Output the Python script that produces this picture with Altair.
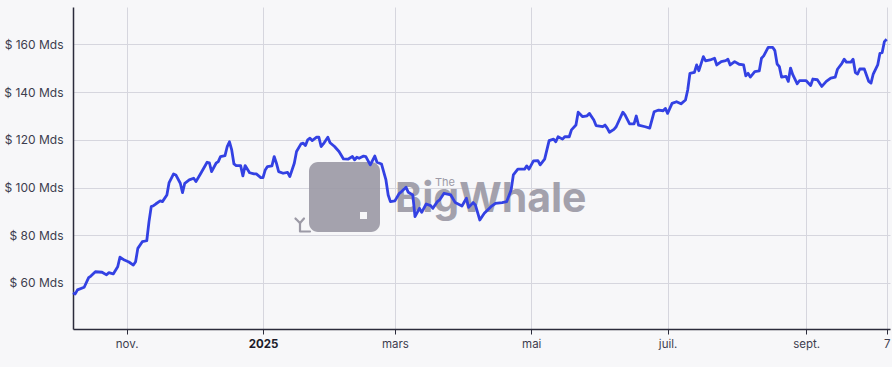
import altair as alt
import pandas as pd

# Days elapsed since 8 Oct 2024 and the value (billions of dollars)
days_since_start = [
    0, 1, 2, 5, 7, 8, 10, 13, 15, 16, 18, 20, 21, 23, 25, 27, 28, 29, 31, 33,
    34, 35, 36, 37, 39, 40, 42, 43, 45, 46, 48, 49, 50, 52, 54, 55, 57, 60, 61, 62,
    64, 65, 66, 68, 69, 70, 71, 72, 73, 75, 76, 77, 79, 81, 82, 84, 85, 86, 87, 89,
    90, 91, 92, 94, 96, 97, 99, 100, 102, 103, 104, 105, 106, 107, 109, 110, 111, 112, 114, 115,
    117, 119, 121, 123, 125, 126, 127, 128, 130, 131, 133, 135, 136, 138, 140, 141, 142, 144, 146, 147,
    149, 150, 152, 153, 155, 156, 158, 160, 161, 163, 164, 166, 169, 171, 174, 176, 177, 179, 180, 182,
    184, 187, 189, 192, 194, 196, 197, 199, 202, 203, 204, 206, 208, 209, 211, 213, 215, 216, 217, 219,
    220, 222, 223, 225, 226, 228, 230, 231, 233, 234, 237, 238, 239, 240, 242, 243, 246, 247, 249, 251,
    252, 253, 256, 258, 260, 262, 264, 265, 266, 268, 270, 272, 274, 275, 276, 278, 279, 280, 282, 283,
    285, 287, 288, 290, 292, 293, 294, 296, 298, 300, 301, 302, 303, 305, 307, 308, 309, 311, 313, 314,
    315, 316, 317, 319, 320, 321, 322, 324, 325, 328, 330, 331, 333, 335, 337, 339, 341, 342, 344, 345,
    346, 348, 349, 350, 351, 352, 354, 356, 357, 358, 360, 361, 362, 363, 364,
]
value_mds = [
    55.9, 55.4, 57.1, 58.2, 62.2, 62.9, 64.7, 64.5, 63.4, 64.3, 63.8, 66.8, 70.8, 69.6, 68.8, 67.5, 68.9, 74.5, 77.3, 77.7,
    85.7, 92.0, 92.4, 93.1, 94.4, 94.1, 96.9, 102.1, 105.7, 105.3, 101.8, 97.9, 101.8, 103.2, 103.9, 102.5, 105.7, 110.6, 110.4, 106.7,
    110.2, 110.9, 113.0, 113.4, 117.2, 119.2, 115.8, 109.9, 109.2, 109.2, 104.9, 109.2, 106.2, 105.7, 105.7, 104.2, 104.2, 107.4, 108.8, 109.1,
    113.0, 110.2, 106.7, 106.0, 106.4, 104.6, 110.2, 115.1, 118.3, 118.6, 117.6, 120.0, 120.7, 119.7, 121.1, 121.1, 117.2, 118.3, 121.1, 118.8,
    117.2, 115.1, 112.0, 111.9, 113.0, 111.6, 112.7, 112.3, 113.2, 113.0, 109.5, 113.2, 110.6, 109.9, 103.2, 96.9, 94.1, 94.4, 97.6, 98.3,
    100.1, 98.0, 96.9, 87.8, 91.3, 89.6, 93.1, 92.4, 91.3, 94.1, 94.8, 97.6, 96.9, 93.7, 92.3, 95.5, 91.7, 93.7, 92.7, 86.4,
    89.2, 92.0, 93.4, 93.7, 94.1, 99.0, 105.3, 107.7, 107.7, 109.1, 107.7, 111.2, 111.3, 109.5, 111.9, 119.7, 120.3, 119.2, 121.3, 120.3,
    121.3, 121.3, 124.2, 126.2, 131.6, 129.7, 130.1, 131.1, 128.3, 126.0, 125.5, 126.2, 124.9, 123.2, 124.4, 125.5, 131.6, 130.4, 126.7, 126.7,
    130.0, 126.2, 125.5, 124.9, 131.8, 132.5, 132.2, 133.2, 131.1, 135.3, 136.0, 135.1, 136.7, 140.9, 147.9, 148.3, 151.4, 149.0, 154.9, 153.1,
    153.5, 154.2, 151.4, 152.8, 153.2, 153.8, 151.4, 152.8, 151.7, 151.4, 146.8, 147.9, 146.3, 148.6, 148.9, 154.2, 155.2, 158.8, 158.8, 157.4,
    151.8, 150.7, 146.3, 146.6, 144.5, 150.1, 147.3, 143.5, 144.8, 144.8, 142.8, 145.5, 145.2, 142.4, 144.5, 145.9, 146.3, 149.6, 152.1, 153.8,
    152.6, 152.6, 153.8, 148.2, 147.6, 149.7, 149.7, 144.5, 143.8, 147.6, 151.4, 156.3, 156.6, 161.2, 162.2,
]

start_date = "2024-10-08"
x_domain = [alt.DateTime(year=2024, month=10, date=8), alt.DateTime(year=2025, month=10, date=8, hours=12)]
y_domain = [40.7, 175.7]

tick_years = [2024, 2025, 2025, 2025, 2025, 2025, 2025]
tick_months = [11, 1, 3, 5, 7, 9, 10]
tick_days = [1, 1, 1, 1, 1, 1, 7]
tick_labels = ["nov.", "2025", "mars", "mai", "juil.", "sept.", "7"]
y_ticks = [60, 80, 100, 120, 140, 160]

df = pd.DataFrame({
    "date": pd.Timestamp(start_date) + pd.to_timedelta(days_since_start, unit="D"),
    "value": value_mds,
})

label_expr = ""
for mo, dd, lab in zip(tick_months, tick_days, tick_labels):
    label_expr += f"(month(datum.value)=={mo - 1} && date(datum.value)=={dd}) ? '{lab}' : "
label_expr += "''"

FONT = "Inter"
TEXT = "#3d3d4e"
GREY = "#9c9aa6"

x_axis = alt.Axis(
    values=[alt.DateTime(year=y, month=m, date=d) for y, m, d in zip(tick_years, tick_months, tick_days)],
    labelExpr=label_expr,
    title=None,
    grid=True,
    gridColor="#d6d6de",
    gridWidth=1,
    domainColor="#2b2b3b",
    domainWidth=1.5,
    tickColor="#2b2b3b",
    tickSize=5,
    tickWidth=1,
    labelPadding=4,
    labelFont=FONT,
    labelFontSize=11.5,
    labelColor={"condition": {"test": "month(datum.value)==0", "value": "#1c1c2a"}, "value": TEXT},
    labelFontWeight={"condition": {"test": "month(datum.value)==0", "value": "bold"}, "value": "normal"},
    labelOverlap=False,
    labelFlush=False,
)
y_axis = alt.Axis(
    values=y_ticks,
    labelExpr="'$ ' + datum.value + ' Mds'",
    title=None,
    grid=True,
    gridColor="#d6d6de",
    gridWidth=1,
    domainColor="#2b2b3b",
    domainWidth=1.5,
    ticks=False,
    labelPadding=10,
    labelFont=FONT,
    labelFontSize=12,
    labelColor=TEXT,
)

one = pd.DataFrame({"k": [0]})

# watermark (decoration)
logo_box = alt.Chart(one).mark_rect(cornerRadius=9, color=GREY, opacity=0.92).encode(
    x=alt.value(236), x2=alt.value(307), y=alt.value(155), y2=alt.value(225)
)
logo_eye = alt.Chart(one).mark_rect(color="#f7f7f9").encode(
    x=alt.value(287), x2=alt.value(294), y=alt.value(205), y2=alt.value(212)
)
sprout_parts = []
for (a, b, c, d) in [(227, 227, 216, 224), (227, 222.5, 216, 211.5), (227, 231, 216, 211.5), (227, 237, 224.5, 224.5)]:
    sprout_parts.append(
        alt.Chart(one).mark_rule(color=GREY, strokeWidth=2.2, strokeCap="round").encode(
            x=alt.value(a), x2=alt.value(b), y=alt.value(c), y2=alt.value(d)
        )
    )
logo_text = alt.Chart(one).mark_text(
    text="BigWhale", font=FONT, fontSize=41, fontWeight="bold", color=GREY,
    align="left", baseline="alphabetic", opacity=0.92,
).encode(x=alt.value(322), y=alt.value(205))
logo_the = alt.Chart(one).mark_text(
    text="The", font=FONT, fontSize=11, color=GREY, align="left", baseline="alphabetic",
).encode(x=alt.value(362), y=alt.value(179))

line = alt.Chart(df).mark_line(color="#3341e3", strokeWidth=2.8, strokeJoin="round").encode(
    x=alt.X("date:T", scale=alt.Scale(domain=x_domain, nice=False), axis=x_axis),
    y=alt.Y("value:Q", scale=alt.Scale(domain=y_domain, nice=False, zero=False), axis=y_axis),
)

chart = alt.layer(
    logo_box, logo_eye, *sprout_parts, logo_text, logo_the, line
).properties(
    width=817,
    height=322,
    autosize=alt.AutoSizeParams(type="none"),
    padding={"left": 73, "top": 7, "right": 2, "bottom": 38},
    background="#f7f7f9",
).configure_view(stroke=None)

chart.save("out.html", embed_options={"renderer": "svg", "actions": False})
